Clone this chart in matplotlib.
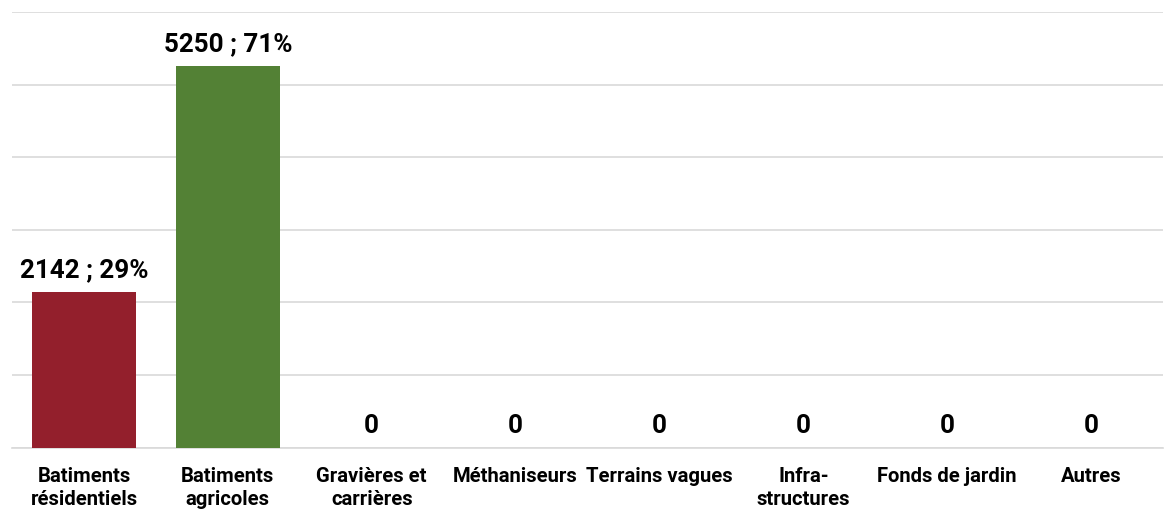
import matplotlib.pyplot as plt

categories = [
    "Batiments\nrésidentiels",
    "Batiments\nagricoles",
    "Gravières et\ncarrières",
    "Méthaniseurs",
    "Terrains vagues",
    "Infra-\nstructures",
    "Fonds de jardin",
    "Autres",
]
values = [2142, 5250, 0, 0, 0, 0, 0, 0]
labels = ["2142 ; 29%", "5250 ; 71%", "0", "0", "0", "0", "0", "0"]
colors = ["#931F2C", "#538135", "#538135", "#538135",
          "#538135", "#538135", "#538135", "#538135"]

plt.rcParams["font.family"] = ["Roboto", "DejaVu Sans"]

fig = plt.figure(figsize=(11.68, 5.11), dpi=100)
ax = fig.add_axes([12 / 1168, 1 - 447.5 / 511, 1151 / 1168, 435.5 / 511])

x = range(len(categories))
ax.bar(x, values, width=0.72, color=colors, zorder=3)

for i, (v, t) in enumerate(zip(values, labels)):
    ax.annotate(t, (i, v), xytext=(0, 7), textcoords="offset points",
                ha="center", va="bottom", fontsize=18.7, fontweight="bold",
                color="black")

ax.set_xlim(-0.5, len(categories) - 0.5)
ax.set_ylim(0, 6000)
ax.set_yticks(range(0, 6001, 1000))
ax.yaxis.grid(True, color="#D9D9D9", linewidth=1.2, zorder=0)
ax.tick_params(axis="y", left=False, labelleft=False)
ax.tick_params(axis="x", length=0, pad=14)
ax.set_xticks(list(x))
ax.set_xticklabels(categories, fontsize=14.6, fontweight="bold",
                   linespacing=1.25)

for s in ["top", "right", "left"]:
    ax.spines[s].set_visible(False)
ax.spines["bottom"].set_color("#D9D9D9")
ax.spines["bottom"].set_linewidth(1.2)

fig.savefig("out.png", dpi=100)
